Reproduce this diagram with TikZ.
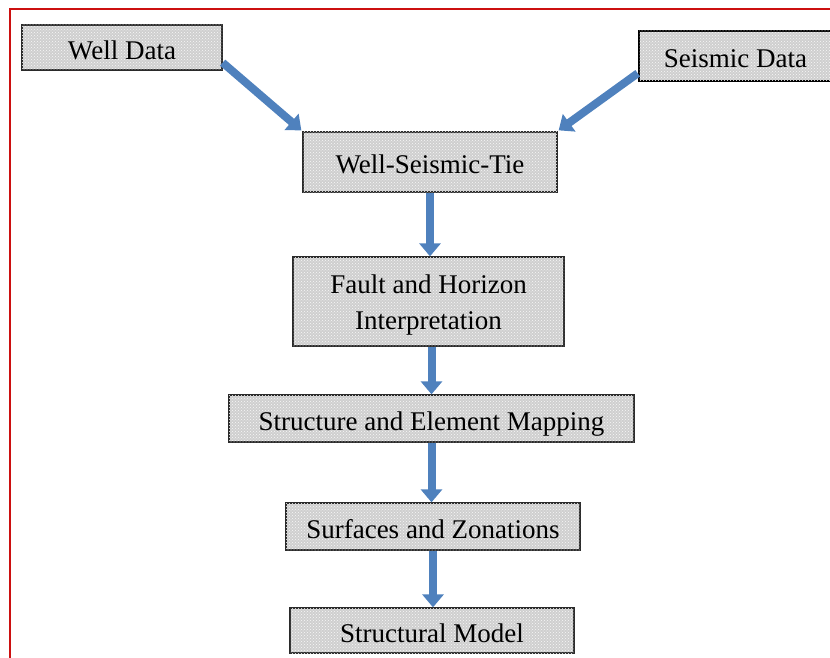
\documentclass[tikz,border=0pt]{standalone}
\usepackage{fontspec}
\setmainfont{Liberation Serif}
\usetikzlibrary{arrows.meta,patterns,calc}

\definecolor{frame}{HTML}{CC1010}
\definecolor{boxfill}{HTML}{CFCFCF}
\definecolor{boxedge}{HTML}{2A2A2A}
\definecolor{flow}{HTML}{4F81BD}

\tikzset{
  stepbox/.style={
    draw=boxedge, line width=1.3pt, fill=boxfill,
    postaction={pattern=crosshatch dots, pattern color=white!85!boxfill},
    rectangle, inner sep=0pt, align=center,
    font=\fontsize{27}{37}\selectfont
  },
  oneline/.style={text height=24pt, text depth=0pt},
  flowarrow/.style={
    draw=flow, line width=8pt,
    -{Triangle[width=21pt,length=13pt]}
  }
}

\begin{document}
\begin{tikzpicture}[x=1pt,y=-1pt]
  \useasboundingbox (0,0) rectangle (830,658);
  \clip (0,0) rectangle (830,658);

  % outer frame (runs past the right and bottom edges)
  \draw[frame, line width=2pt] (10,9) rectangle (845,675);

  % process boxes
  \node[stepbox, oneline, minimum width=200pt, minimum height=45pt] (wd) at (122,47.5) {Well Data};
  \node[stepbox, oneline, draw=black, line width=2.6pt, minimum width=193pt, minimum height=50pt] (sd) at (735.5,56) {Seismic Data};
  \node[stepbox, oneline, minimum width=254pt, minimum height=60pt] (ws) at (430,162) {Well-Seismic-Tie};
  \node[stepbox, minimum width=271pt, minimum height=89pt] (fh) at (428.5,301.5)
    {\raisebox{-3pt}[\height][\depth]{\begin{tabular}{@{}c@{}}Fault and Horizon\\[-1pt]Interpretation\end{tabular}}};
  \node[stepbox, oneline, minimum width=405pt, minimum height=47pt] (sm) at (431.5,418.5) {Structure and Element Mapping};
  \node[stepbox, oneline, minimum width=294pt, minimum height=47pt] (sz) at (433,526.5) {Surfaces and Zonations};
  \node[stepbox, oneline, minimum width=284pt, minimum height=45pt] (smod) at (432,630.5) {Structural Model};

  % connectors
  \draw[flowarrow] ([yshift=8pt]wd.south east) -- ([xshift=-1pt,yshift=1pt]ws.north west);
  \draw[flowarrow] ([yshift=9pt]sd.south west) -- ([xshift=1pt,yshift=1pt]ws.north east);
  \draw[flowarrow] (ws.south) -- (ws.south |- fh.north);
  \draw[flowarrow] (sm.north |- fh.south) -- (sm.north);
  \draw[flowarrow] (sm.south) -- (sm.south |- sz.north);
  \draw[flowarrow] (sz.south) -- (sz.south |- smod.north);
\end{tikzpicture}
\end{document}
